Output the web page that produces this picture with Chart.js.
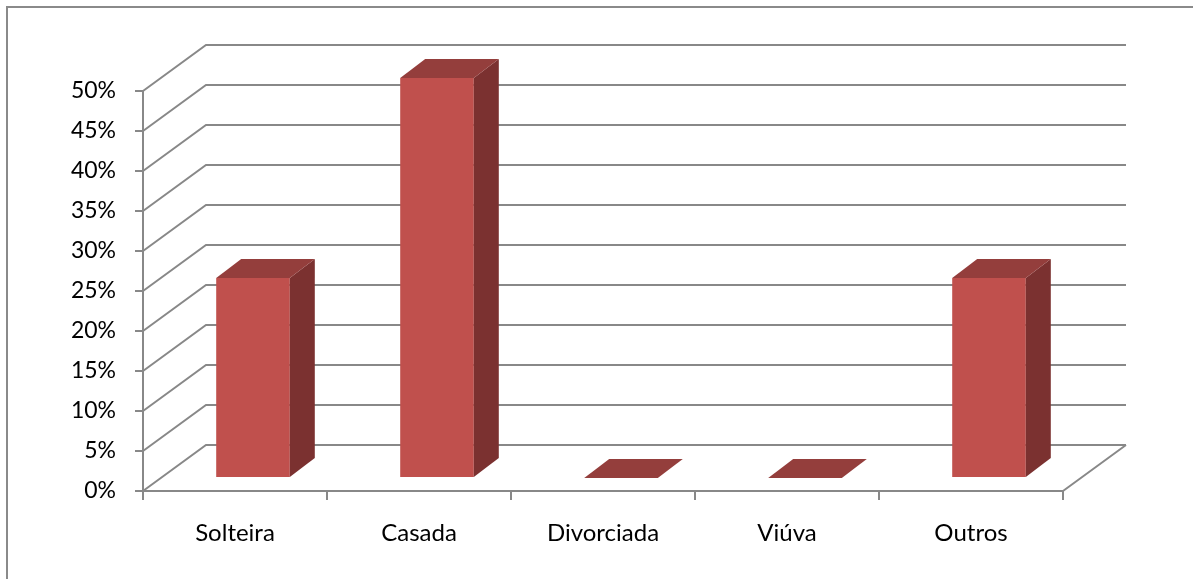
<!DOCTYPE html>
<html>
<head>
<meta charset="utf-8">
<script src="https://cdn.jsdelivr.net/npm/chart.js@4"></script>
<style>
    html, body { margin: 0; padding: 0; background: #fff; }
    #wrap { position: relative; width: 1193px; height: 579px; overflow: hidden; }
    #frame {
        position: absolute; left: 6px; top: 6px; width: 1200px; height: 600px;
        border-left: 2px solid #8a8a8a; border-top: 2px solid #8a8a8a;
    }
    #chart { position: absolute; left: 0; top: 0; }
</style>
</head>
<body>
<div id="wrap">
    <div id="frame"></div>
    <canvas id="chart" width="1193" height="579"></canvas>
</div>
<script>
const categories = ['Solteira', 'Casada', 'Divorciada', 'Viúva', 'Outros'];
const percentages = [25, 50, 0, 0, 25];
const yTicks = [0, 5, 10, 15, 20, 25, 30, 35, 40, 45, 50];

const GRID = '#888888';
const FRONT = '#c0504d';
const TOP = '#943e3c';
const SIDE = '#7b3130';

// depth of the floor / side walls, and where the bars sit inside it
const DEPTH = { dx: 63, dy: -46 };
const BAR_FRONT = { dx: 18, dy: -13 };
const BAR_BACK = { dx: 25, dy: -19 };

function poly(ctx, pts, color) {
    ctx.beginPath();
    ctx.moveTo(pts[0][0], pts[0][1]);
    pts.slice(1).forEach(p => ctx.lineTo(p[0], p[1]));
    ctx.closePath();
    ctx.fillStyle = color;
    ctx.fill();
}

const box3d = {
    id: 'box3d',
    beforeDatasetsDraw(chart) {
        const { ctx, chartArea: a, scales: { y } } = chart;
        ctx.save();
        ctx.strokeStyle = GRID;
        ctx.lineWidth = 2;
        ctx.beginPath();
        // back wall lines with the slanted side wall links
        yTicks.forEach(v => {
            const py = y.getPixelForValue(v);
            ctx.moveTo(a.left, py);
            ctx.lineTo(a.left + DEPTH.dx, py + DEPTH.dy);
            ctx.lineTo(a.right + DEPTH.dx, py + DEPTH.dy);
        });
        // right edge of the floor
        ctx.moveTo(a.right, a.bottom);
        ctx.lineTo(a.right + DEPTH.dx, a.bottom + DEPTH.dy);
        ctx.stroke();
        ctx.restore();

        // front faces are drawn by Chart.js, pushed back into the floor
        ctx.save();
        ctx.translate(BAR_FRONT.dx, BAR_FRONT.dy);
    },
    afterDatasetsDraw(chart) {
        const { ctx } = chart;
        ctx.restore();
        chart.getDatasetMeta(0).data.forEach(bar => {
            const p = bar.getProps(['x', 'y', 'base', 'width'], true);
            const l = p.x - p.width / 2 + BAR_FRONT.dx;
            const r = p.x + p.width / 2 + BAR_FRONT.dx;
            const t = p.y + BAR_FRONT.dy;
            const b = p.base + BAR_FRONT.dy;
            const bx = BAR_BACK.dx, by = BAR_BACK.dy;
            if (b - t > 0.5) {
                poly(ctx, [[r, t], [r + bx, t + by], [r + bx, b + by], [r, b]], SIDE);
            }
            poly(ctx, [[l, t], [r, t], [r + bx, t + by], [l + bx, t + by]], TOP);
        });
    }
};

new Chart(document.getElementById('chart'), {
    type: 'bar',
    data: {
        labels: categories,
        datasets: [{
            data: percentages,
            backgroundColor: FRONT,
            borderWidth: 0,
            categoryPercentage: 0.8,
            barPercentage: 0.5,
            clip: false
        }]
    },
    options: {
        responsive: false,
        animation: false,
        layout: { padding: { top: 91, right: 130, bottom: 0, left: 0 } },
        plugins: { legend: { display: false }, tooltip: { enabled: false } },
        scales: {
            x: {
                grid: { drawOnChartArea: false, color: GRID, lineWidth: 2, tickLength: 9 },
                border: { color: GRID, width: 2 },
                ticks: { color: '#000', font: { family: 'Lato', size: 24 }, padding: 19 },
                afterFit(scale) { scale.height = 88; }
            },
            y: {
                min: 0,
                max: 50,
                afterBuildTicks(scale) { scale.ticks = yTicks.map(v => ({ value: v })); },
                grid: { drawOnChartArea: false, color: GRID, lineWidth: 2, tickLength: 8 },
                border: { color: GRID, width: 2 },
                ticks: { color: '#000', font: { family: 'Lato', size: 23 }, padding: 19, callback: v => v + '%' },
                afterFit(scale) { scale.width = 143; }
            }
        }
    },
    plugins: [box3d]
});
</script>
</body>
</html>
